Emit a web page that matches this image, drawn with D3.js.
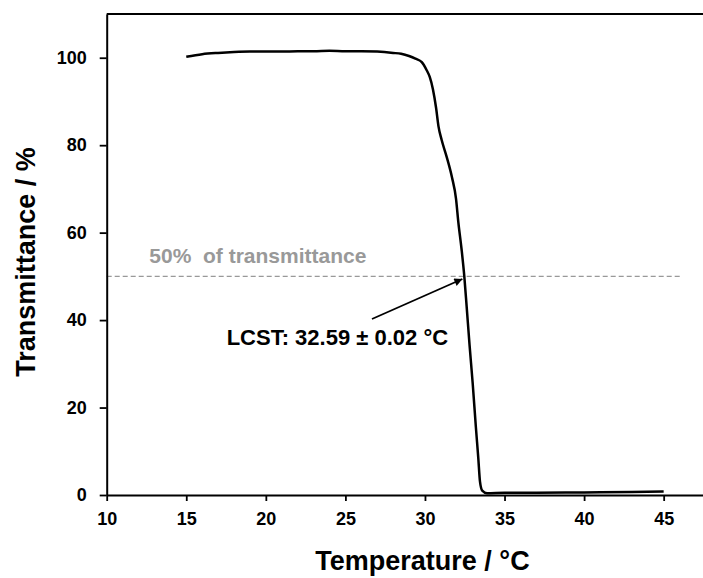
<!DOCTYPE html>
<html>
<head>
<meta charset="utf-8">
<script src="https://cdn.jsdelivr.net/npm/d3@7"></script>
<style>
    body { margin: 0; background: white; }
    text { font-family: "Liberation Sans", Arial, sans-serif; font-weight: bold; }
</style>
</head>
<body>
<svg id="chart" width="703" height="578"></svg>
<script>

    // *** Data ***
    var temperatures = [15, 16, 17, 18, 19, 20, 21, 22, 23, 24, 25, 26, 27, 28, 28.5, 29, 29.4, 29.8, 30.1, 30.3,
        30.5, 30.7, 30.85, 31.05, 31.35, 31.7, 31.95, 32.1, 32.3, 32.47, 32.62, 32.8, 33.0, 33.2, 33.35, 33.46,
        33.6, 33.9, 35, 37, 40, 43, 45];
    var transmittance = [100.2, 100.8, 101.1, 101.3, 101.4, 101.4, 101.4, 101.5, 101.5, 101.6, 101.5, 101.5, 101.4,
        101.1, 100.9, 100.4, 99.8, 99.0, 97.2, 95.6, 92.8, 88.5, 84.3, 81.2, 77.5, 72.6, 67.8, 62.3, 56.2, 50.1,
        43.1, 34.4, 25.5, 15.5, 8.5, 3.0, 1.0, 0.4, 0.5, 0.5, 0.6, 0.7, 0.8];

    var xTicks = [10, 15, 20, 25, 30, 35, 40, 45];
    var yTicks = [0, 20, 40, 60, 80, 100];

    var halfLine = [[10, 50], [46.15, 50]];          // 50 % reference line
    var arrowPoints = [[26.67, 40.25], [32.35, 49.4]]; // from label to LCST point
    var halfLabel = "50%\u00a0 of transmittance";
    var lcstLabel = "LCST: 32.59 \u00b1 0.02 \u00b0C";

    var data = temperatures.map((t, i) => ({t: t, v: transmittance[i]}));

    // *** Chart building ***
    var chart = d3.select("#chart");

    var x = d3.scaleLinear().domain([10, 48]).range([106.7, 711.4]);
    var y = d3.scaleLinear().domain([0, 110]).range([495, 14]);

    var defs = chart.append("defs");
    defs.append("marker")
        .attr("id", "head")
        .attr("viewBox", "0 0 10 10")
        .attr("refX", 10)
        .attr("refY", 5)
        .attr("markerUnits", "userSpaceOnUse")
        .attr("markerWidth", 11)
        .attr("markerHeight", 8)
        .attr("orient", "auto")
        .append("path")
        .attr("d", "M0,0 L10,5 L0,10 z")
        .attr("fill", "#000");

    // dashed 50 % line
    chart.append("line")
        .attr("x1", x(halfLine[0][0]))
        .attr("x2", x(halfLine[1][0]))
        .attr("y1", y(halfLine[0][1]))
        .attr("y2", y(halfLine[1][1]))
        .attr("stroke", "#999")
        .attr("stroke-width", 1.4)
        .attr("stroke-dasharray", "5,3");

    chart.append("text")
        .attr("x", x(12.68))
        .attr("y", y(53.06))
        .attr("fill", "#999")
        .style("font-size", "21px")
        .text(halfLabel);

    // top frame line
    chart.append("line")
        .attr("x1", x(10))
        .attr("x2", x(48))
        .attr("y1", y(110))
        .attr("y2", y(110))
        .attr("stroke", "#000")
        .attr("stroke-width", 2);

    var xAxisG = chart.append("g")
        .attr("transform", "translate(0," + y(0) + ")")
        .call(d3.axisBottom(x).tickValues(xTicks).tickSize(6).tickSizeOuter(0).tickPadding(11));

    var yAxisG = chart.append("g")
        .attr("transform", "translate(" + x(10) + ",0)")
        .call(d3.axisLeft(y).tickValues(yTicks).tickSize(7).tickSizeOuter(0).tickPadding(13));

    [xAxisG, yAxisG].forEach(g => {
        g.select(".domain").attr("stroke", "#000").attr("stroke-width", 2);
        g.selectAll(".tick line").attr("stroke", "#000").attr("stroke-width", 1.8);
        g.selectAll(".tick text")
            .attr("fill", "#000")
            .style("font-size", "18px")
            .style("font-family", "'Liberation Sans', Arial, sans-serif")
            .style("font-weight", "bold");
    });

    // transmittance curve
    var lineMaker = d3.line()
        .x(d => x(d.t))
        .y(d => y(d.v))
        .curve(d3.curveMonotoneX);

    chart.append("path")
        .attr("d", lineMaker(data))
        .attr("fill", "none")
        .attr("stroke", "#000")
        .attr("stroke-width", 2.5)
        .attr("stroke-linejoin", "round");

    // arrow + LCST annotation
    chart.append("line")
        .attr("x1", x(arrowPoints[0][0]))
        .attr("y1", y(arrowPoints[0][1]))
        .attr("x2", x(arrowPoints[1][0]))
        .attr("y2", y(arrowPoints[1][1]))
        .attr("stroke", "#000")
        .attr("stroke-width", 1.8)
        .attr("marker-end", "url(#head)");

    chart.append("text")
        .attr("x", x(17.54))
        .attr("y", y(34.3))
        .attr("fill", "#000")
        .style("font-size", "22px")
        .text(lcstLabel);

    // axis titles
    chart.append("text")
        .attr("x", 422.5)
        .attr("y", 570)
        .attr("text-anchor", "middle")
        .style("font-size", "27px")
        .text("Temperature / \u00b0C");

    chart.append("text")
        .attr("transform", "translate(35," + 262 + ") rotate(-90)")
        .attr("text-anchor", "middle")
        .style("font-size", "27px")
        .text("Transmittance / %");

</script>
</body>
</html>
